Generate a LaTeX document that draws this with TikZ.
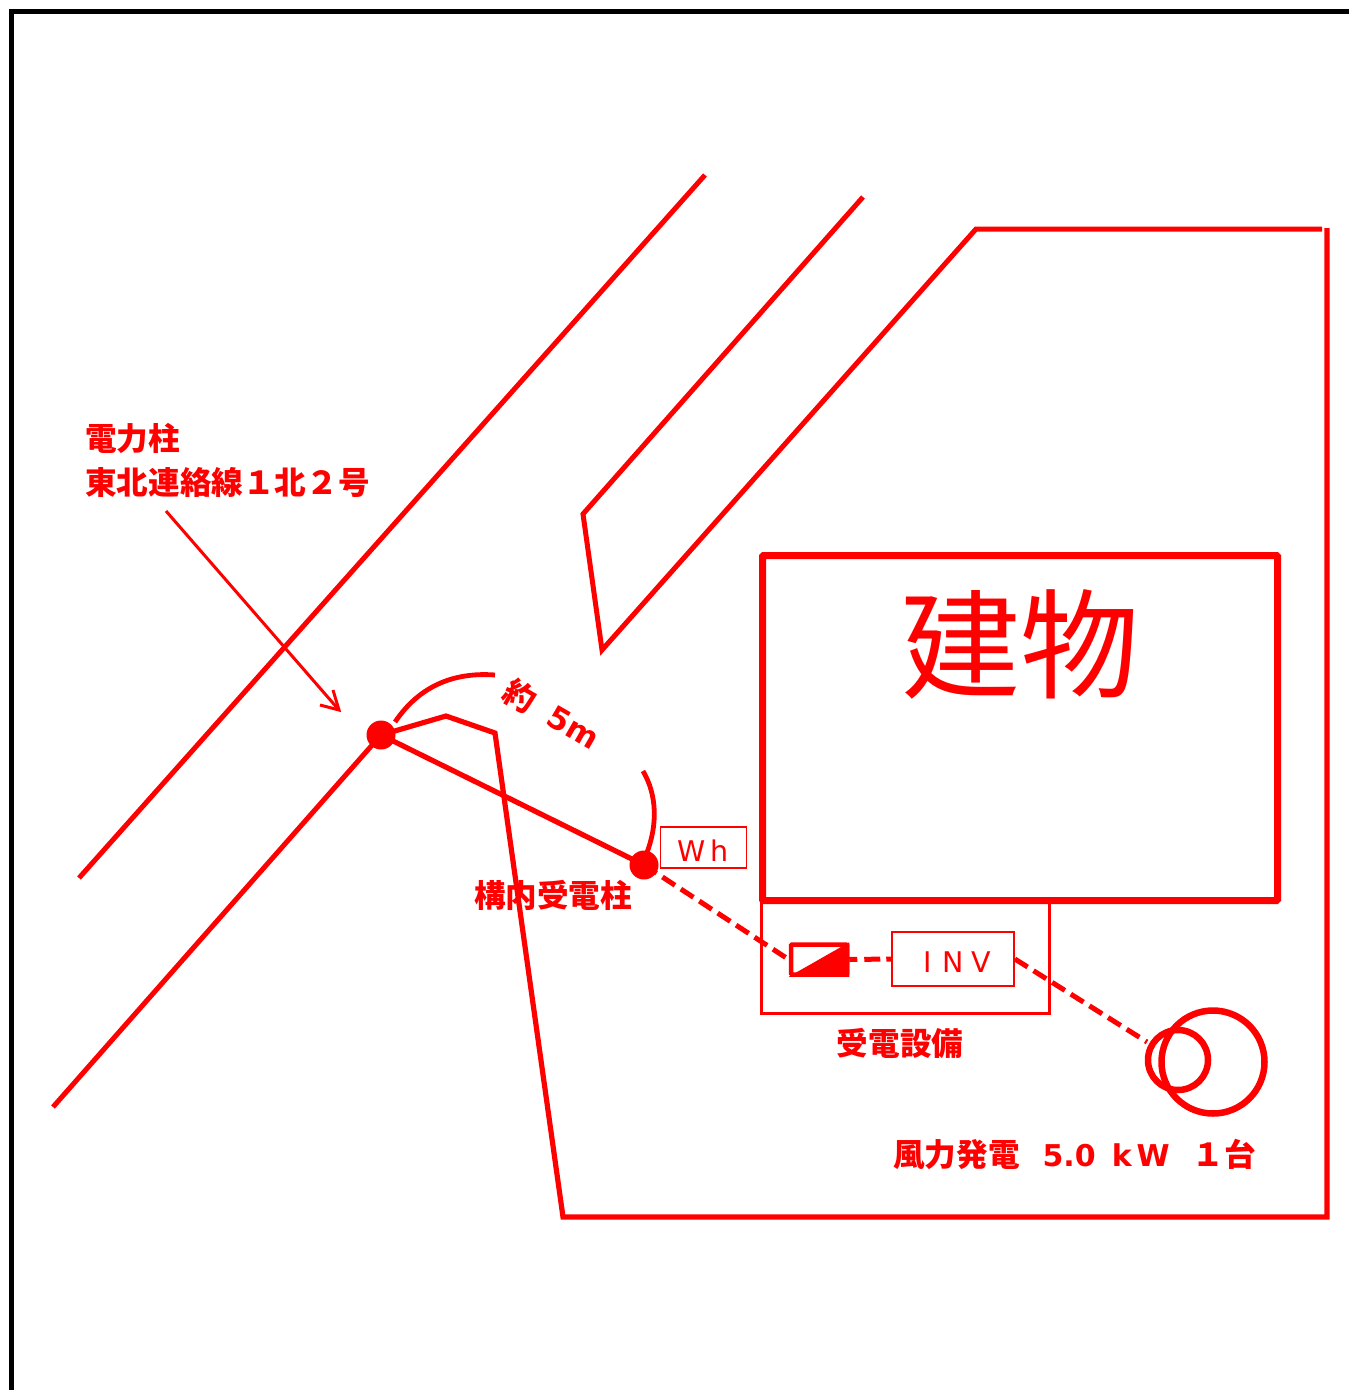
\documentclass[tikz,border=0pt]{standalone}
\usepackage{fontspec}
\setmainfont{Noto Sans CJK JP}
\newfontfamily\latinf{DejaVu Sans}
\definecolor{rd}{RGB}{255,0,0}
\tikzset{
  road/.style={draw=rd,line width=5pt},
  thinbox/.style={draw=rd,line width=1.8pt,inner sep=0pt,text=rd},
  pole/.style={circle,fill=rd,minimum size=29pt,inner sep=0pt},
  dashline/.style={draw=rd,line width=5pt,dash pattern=on 15pt off 7pt},
  lbl/.style={text=rd,inner sep=0pt,anchor=west,font=\fontsize{31.6}{32}\selectfont\bfseries},
}
\begin{document}
\begin{tikzpicture}[x=1pt,y=-1pt]
\useasboundingbox (0,0) rectangle (1349,1390);
% frame
\draw[black,line width=5pt] (11,1390) -- (11,11) -- (1349,11);
% roads
\coordinate (r1a) at (79,878); \coordinate (r1b) at (705,175);
\draw[road] (r1a) -- (r1b);
\coordinate (r2a) at (863,197); \coordinate (r2b) at (583,514); \coordinate (r2c) at (602,650); \coordinate (r2d) at (976,229);
\draw[road] (r2a) -- (r2b) -- (r2c) -- (r2d) -- (1322,229);
% poles
\node[pole] (p1) at (381,735) {};
\node[pole] (p2) at (644,865) {};
\coordinate (r3a) at (53,1107);
\draw[road] (r3a) -- (p1.center);
% site
\draw[draw=rd,line width=5.2pt] (p1.center) -- (446,716) -- (495,733) -- (563,1217) -- (1327,1217) -- (1327,228);
% service wire
\draw[draw=rd,line width=5.2pt] (p1.center) -- (p2.center);
% building
\node[draw=rd,line width=7pt,rounded corners=1pt,minimum width=515pt,minimum height=345pt,inner sep=0pt] (bld) at (1020,728) {};
\node[text=rd,inner sep=0pt,font=\fontsize{119}{119}\selectfont] (bldt) at (1020,644) {建物};
% equipment enclosure
\draw[draw=rd,line width=3pt] (761,901) -- (761,1013) -- (1049,1013) -- (1049,901);
\node[thinbox,minimum width=86pt,minimum height=41pt] (wh) at (703.5,847.5) {};
\node[text=rd,inner sep=0pt,font=\latinf\fontsize{28.5}{28}\selectfont] (wht) at (703,851) {W\,h};
\node[thinbox,minimum width=122pt,minimum height=54pt] (inv) at (953,959) {};
\node[text=rd,inner sep=0pt,font=\latinf\fontsize{28.5}{28}\selectfont] (invt) at (957.5,962.5) {I\hspace{10pt}N\hspace{8pt}V};
% breaker
\node[draw=rd,line width=4.5pt,rounded corners=1pt,minimum width=56pt,minimum height=30pt,inner sep=0pt] (brk) at (819,959.5) {};
\fill[rd] (brk.south west) -- (brk.north east) -- (brk.south east) -- cycle;
% dashed wires
\coordinate (wt) at (1147,1042);
\draw[dashline] (p2.center) -- (brk.west);
\draw[dashline,dash pattern=on 8pt off 7pt on 16pt off 6pt on 20pt] (brk.east) -- (inv.west);
\draw[dashline] (inv.east) -- (wt);
% turbine
\node[circle,draw=rd,line width=6.5pt,minimum size=103pt,inner sep=0pt] (wtb) at (1213,1062) {};
\node[circle,draw=rd,line width=6.5pt,minimum size=60pt,inner sep=0pt] (wts) at (1178,1060) {};
% dimension arcs
\coordinate (a1) at (395,722); \coordinate (a2) at (495,675);
\coordinate (a3) at (643,771); \coordinate (a4) at (646,855);
\draw[draw=rd,line width=4.8pt] (a1) .. controls (420,685) and (455,672) .. (a2);
\draw[draw=rd,line width=4.8pt] (a3) .. controls (657,795) and (658,825) .. (a4);
\node[text=rd,inner sep=0pt,rotate=-30,font=\fontsize{31.6}{32}\selectfont\bfseries] (dim) at (552,714) {約\hspace{0.6em}{\latinf\fontsize{31}{31}\selectfont 5m}};
% labels
\node[lbl] (l1) at (85,438) {電力柱};
\node[lbl] (l2) at (85,482) {東北連絡線１北２号};
\node[lbl,anchor=center] (l3) at (553,895) {構内受電柱};
\node[lbl,anchor=center] (l4) at (900,1043) {受電設備};
\node[lbl] (l5) at (893,1154) {風力発電\hspace{23pt}{\latinf\fontsize{30}{30}\selectfont 5.0\hspace{16pt}k\,W\hspace{23pt}}１台};
% leader
\coordinate (ld1) at (166,511); \coordinate (ld2) at (339,710);
\draw[draw=rd,line width=3pt] (ld1) -- (ld2);
\draw[draw=rd,line width=3pt] (320,705) -- (ld2) -- (333,690);
\end{tikzpicture}
\end{document}
